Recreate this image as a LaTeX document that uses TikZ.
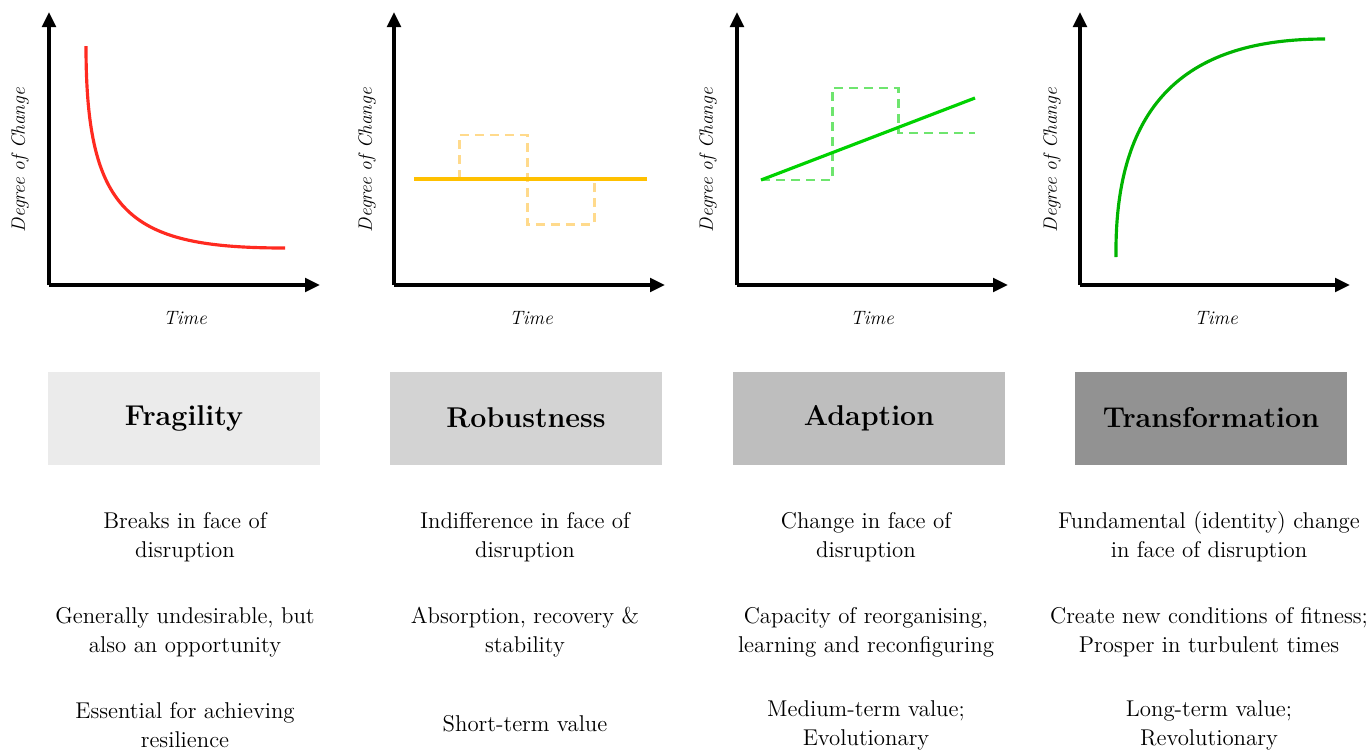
\documentclass[tikz,border=0pt]{standalone}
\usepackage{tikz}
\usetikzlibrary{arrows.meta}
\newcommand{\unt}[0] {0.02cm}

\definecolor{fragred}{HTML}{FF2A20}
\definecolor{robuorange}{HTML}{FFC000}
\definecolor{robulight}{HTML}{FFDA8C}
\definecolor{adapgreen}{HTML}{00D200}
\definecolor{adaplight}{HTML}{6EE56E}
\definecolor{transgreen}{HTML}{00B400}
\definecolor{fragbox}{HTML}{EBEBEB}
\definecolor{robubox}{HTML}{D3D3D3}
\definecolor{adapbox}{HTML}{BEBEBE}
\definecolor{transbox}{HTML}{929292}

\tikzset{
    axis/.style={line width=2pt, -{Triangle[length=0.3cm, width=0.27cm]}},
    ylab/.style={rotate=90, font=\fontsize{11}{13}\selectfont\itshape},
    xlab/.style={font=\fontsize{11}{13}\selectfont\itshape},
    curve/.style={line width=1.8pt},
    ghost/.style={line width=1.7pt, dash pattern=on 0.18cm off 0.12cm},
    titlebox/.style={minimum width=5.44cm, minimum height=1.86cm, inner sep=0pt,
        font=\fontsize{16.3}{19}\selectfont\bfseries},
    desc/.style={align=center, font=\fontsize{13}{16.5}\selectfont}
}

\begin{document}
\begin{tikzpicture}[x=\unt, y=-\unt]
        \useasboundingbox (0,0) rectangle (1368,751);
        %fragility graph
        \coordinate (o1) at (49,285);
        \coordinate (y1) at (49,12);
        \coordinate (x1) at (320,285);
        \path[axis] (o1) edge (y1);
        \path[axis] (o1) edge (x1);
        \node[ylab] (d1) at (20,160) {Degree of Change};
        \node[xlab] (t1) at (185,318) {Time};
        \coordinate (f_1) at (86,46);
        \coordinate (f_2) at (285,248);
        \draw[curve, fragred] (f_1) .. controls (86,215) and (130,248) .. (f_2);
        %robustness graph
        \coordinate (o2) at (394,285);
        \coordinate (y2) at (394,12);
        \coordinate (x2) at (665,285);
        \path[axis] (o2) edge (y2);
        \path[axis] (o2) edge (x2);
        \node[ylab] (d2) at (367,160) {Degree of Change};
        \node[xlab] (t2) at (531,318) {Time};
        \coordinate (r_1) at (459,179);
        \coordinate (r_2) at (459,135);
        \coordinate (r_3) at (527,135);
        \coordinate (r_4) at (527,224);
        \coordinate (r_5) at (594,224);
        \coordinate (r_6) at (594,179);
        \draw[ghost, robulight] (r_1) -- (r_2) -- (r_3) -- (r_4) -- (r_5) -- (r_6);
        \coordinate (rs) at (414,179);
        \coordinate (re) at (647,179);
        \draw[curve, robuorange] (rs) -- (re);
        %adaption graph
        \coordinate (o3) at (737,285);
        \coordinate (y3) at (737,12);
        \coordinate (x3) at (1008,285);
        \path[axis] (o3) edge (y3);
        \path[axis] (o3) edge (x3);
        \node[ylab] (d3) at (708,160) {Degree of Change};
        \node[xlab] (t3) at (872,318) {Time};
        \coordinate (a_1) at (761,180);
        \coordinate (a_2) at (832,180);
        \coordinate (a_3) at (832,88);
        \coordinate (a_4) at (898,88);
        \coordinate (a_5) at (898,133);
        \coordinate (a_6) at (975,133);
        \draw[ghost, adaplight] (a_1) -- (a_2) -- (a_3) -- (a_4) -- (a_5) -- (a_6);
        \coordinate (as) at (761,180);
        \coordinate (ae) at (975,98);
        \draw[curve, adapgreen] (as) -- (ae);
        %transformation graph
        \coordinate (o4) at (1080,285);
        \coordinate (y4) at (1080,12);
        \coordinate (x4) at (1350,285);
        \path[axis] (o4) edge (y4);
        \path[axis] (o4) edge (x4);
        \node[ylab] (d4) at (1052,160) {Degree of Change};
        \node[xlab] (t4) at (1216,318) {Time};
        \coordinate (g_1) at (1116,257);
        \coordinate (g_2) at (1325,39);
        \draw[curve, transgreen] (g_1) .. controls (1114,90) and (1200,39) .. (g_2);
        %title boxes
        \node[titlebox, fill=fragbox] (frag) at (184,418) {Fragility};
        \node[titlebox, fill=robubox] (robu) at (526,418) {Robustness};
        \node[titlebox, fill=adapbox] (adap) at (869,418) {Adaption};
        \node[titlebox, fill=transbox] (trans) at (1211,418) {Transformation};
        %fragility text
        \node[desc] (f_a) at (185,537) {Breaks in face of\\disruption};
        \node[desc] (f_b) at (185,632) {Generally undesirable, but\\also an opportunity};
        \node[desc] (f_c) at (185,725) {Essential for achieving\\resilience};
        %robustness text
        \node[desc] (r_a) at (525,537) {Indifference in face of\\disruption};
        \node[desc] (r_b) at (525,632) {Absorption, recovery \&\\stability};
        \node[desc] (r_c) at (525,724) {Short-term value};
        %adaption text
        \node[desc] (a_a) at (866,537) {Change in face of\\disruption};
        \node[desc] (a_b) at (866,632) {Capacity of reorganising,\\learning and reconfiguring};
        \node[desc] (a_c) at (866,725) {Medium-term value;\\Evolutionary};
        %transformation text
        \node[desc] (g_a) at (1209,537) {Fundamental (identity) change\\in face of disruption};
        \node[desc] (g_b) at (1209,632) {Create new conditions of fitness;\\Prosper in turbulent times};
        \node[desc] (g_c) at (1209,725) {Long-term value;\\Revolutionary};
    \end{tikzpicture}
\end{document}
